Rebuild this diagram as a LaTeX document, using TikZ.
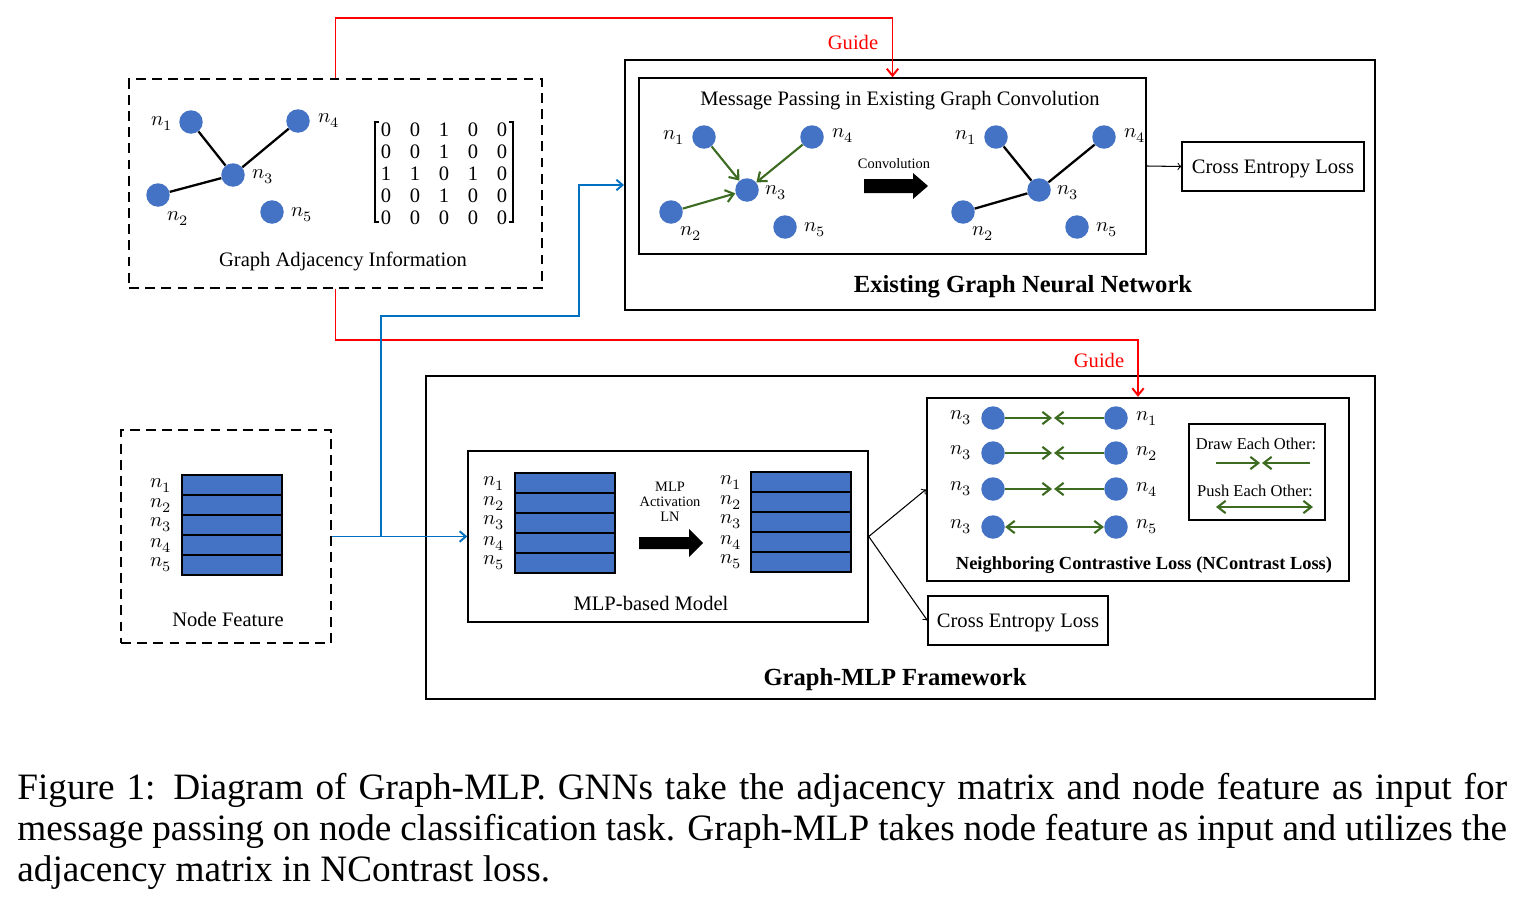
\documentclass[tikz,border=0pt]{standalone}
\usepackage{amsmath}
\usepackage{fontspec}
\usepackage{unicode-math}
\setmainfont{Liberation Serif}
\usetikzlibrary{arrows,arrows.meta}
\definecolor{nodeblue}{HTML}{4472C4}
\definecolor{linkblue}{HTML}{0070C0}
\definecolor{pullgreen}{HTML}{3D6B22}
\definecolor{guidered}{HTML}{FF0000}

\tikzset{
  vert/.style={circle, fill=nodeblue, minimum size=0.47cm, inner sep=0pt},
  txt/.style={font=\fontsize{11.7}{14}\selectfont, inner sep=0pt},
  ttl/.style={txt, yshift=-0.05cm},
  smalltxt/.style={font=\fontsize{8.2}{9.6}\selectfont, inner sep=0pt},
  legtxt/.style={font=\fontsize{9.4}{11}\selectfont, inner sep=0pt, yshift=-0.03cm},
  headtxt/.style={font=\fontsize{14}{16}\selectfont\bfseries, inner sep=0pt, yshift=-0.05cm},
  dashbox/.style={draw, dash pattern=on 5.6pt off 3.6pt, line width=1.4pt, inner sep=0pt},
  framebox/.style={draw, line width=1.2pt, inner sep=0pt},
  thinbox/.style={draw, line width=0.7pt, inner sep=0pt},
  edge/.style={line width=1.3pt},
  pull/.style={pullgreen, line width=1.2pt, >={Straight Barb[length=4.5pt,width=7pt]}},
  guide/.style={guidered, line width=1.1pt, >={Straight Barb[length=4pt,width=6.5pt]}},
  feed/.style={linkblue, line width=1.1pt, >={Straight Barb[length=3.5pt,width=6pt]}},
  featrow/.style={fill=nodeblue, draw=black, line width=0.6pt}
}

\begin{document}
\begin{tikzpicture}[x=0.02cm, y=-0.02cm, >=to]
        \useasboundingbox (0,0) rectangle (1524,896);

        % Boxes
        \node[dashbox, minimum width=8.26cm, minimum height=4.18cm] (adj) at (335.5,183.5) {};
        \node[dashbox, minimum width=4.2cm, minimum height=4.26cm] (nfeat) at (226,536.5) {};
        \node[framebox, minimum width=15cm, minimum height=5cm] (gnn) at (1000,185) {};
        \node[framebox, line width=0.9pt, minimum width=10.14cm, minimum height=3.52cm] (msg) at (892.5,166) {};
        \node[thinbox, minimum width=3.64cm, minimum height=0.98cm] (ceA) at (1273,166.5) {};
        \node[framebox, minimum width=18.98cm, minimum height=6.46cm] (frame) at (900.5,537.5) {};
        \node[framebox, line width=0.9pt, minimum width=8cm, minimum height=3.42cm] (mlp) at (668,536.5) {};
        \node[framebox, line width=1.4pt, minimum width=8.44cm, minimum height=3.66cm] (ncl) at (1138,489.5) {};
        \node[thinbox, minimum width=2.72cm, minimum height=1.92cm] (legend) at (1257,472) {};
        \node[thinbox, minimum width=3.6cm, minimum height=0.98cm] (ceB) at (1018,620.5) {};

        % Box titles
        \node[ttl] (adjtitle) at (343,259) {Graph Adjacency Information};
        \node[ttl] (nftitle) at (228,617) {Node Feature};
        \node[ttl] (msgtitle) at (900,98) {Message Passing in Existing Graph Convolution};
        \node[ttl] (ceAtxt) at (ceA) {Cross Entropy Loss};
        \node[ttl] (ceBtxt) at (ceB) {Cross Entropy Loss};
        \node[ttl] (mlptitle) at (651,601) {MLP-based Model};
        \node[headtxt] (gnntitle) at (1023,284) {Existing Graph Neural Network};
        \node[headtxt] (frametitle) at (895,677) {Graph-MLP Framework};
        \node[headtxt, font=\fontsize{10.5}{12}\selectfont\bfseries] (ncltitle) at (1144,563) {Neighboring Contrastive Loss (NContrast Loss)};

        % Adjacency graph
        \node[vert] (a1) at (191,122) {};
        \node[vert] (a2) at (158,195) {};
        \node[vert] (a3) at (233,175) {};
        \node[vert] (a4) at (298,121) {};
        \node[vert] (a5) at (272,212) {};
        \draw[edge] (a1) -- (a3);
        \draw[edge] (a4) -- (a3);
        \draw[edge] (a2) -- (a3);
        \node[txt] (la1) at (162,123) {$n_1$};
        \node[txt] (la2) at (178,218) {$n_2$};
        \node[txt] (la3) at (263,177) {$n_3$};
        \node[txt] (la4) at (329,120) {$n_4$};
        \node[txt] (la5) at (302,215) {$n_5$};

        % Adjacency matrix
        \foreach \row [count=\r] in {{0,0,1,0,0},{0,0,1,0,0},{1,1,0,1,0},{0,0,1,0,0},{0,0,0,0,0}}
          \foreach \v [count=\c] in \row
            \node[txt] (e\r\c) at (357+29*\c, 108+22*\r) {\v};
        \draw[line width=0.9pt] (379,122) -- (375,122) -- (375,222) -- (379,222);
        \draw[line width=0.9pt] (509,122) -- (513,122) -- (513,222) -- (509,222);

        % Message passing, before convolution
        \node[vert] (m1) at (704,137) {};
        \node[vert] (m2) at (671,212) {};
        \node[vert] (m3) at (747,190) {};
        \node[vert] (m4) at (812,137) {};
        \node[vert] (m5) at (785,227) {};
        \draw[pull,->] (m1) -- (m3);
        \draw[pull,->] (m4) -- (m3);
        \draw[pull,->] (m2) -- (m3);
        \node[txt] (lm1) at (674,137) {$n_1$};
        \node[txt] (lm2) at (691,233) {$n_2$};
        \node[txt] (lm3) at (776,193) {$n_3$};
        \node[txt] (lm4) at (843,135) {$n_4$};
        \node[txt] (lm5) at (815,230) {$n_5$};

        % Convolution arrow
        \node[smalltxt] (convtxt) at (894,164) {Convolution};
        \fill (864,179) -- (913,179) -- (913,173) -- (928,186) -- (913,199) -- (913,193) -- (864,193) -- cycle;

        % Message passing, after convolution
        \node[vert] (g1) at (996,137) {};
        \node[vert] (g2) at (963,212) {};
        \node[vert] (g3) at (1039,190) {};
        \node[vert] (g4) at (1104,137) {};
        \node[vert] (g5) at (1077,227) {};
        \draw[edge] (g1) -- (g3);
        \draw[edge] (g4) -- (g3);
        \draw[edge] (g2) -- (g3);
        \node[txt] (lg1) at (966,137) {$n_1$};
        \node[txt] (lg2) at (983,233) {$n_2$};
        \node[txt] (lg3) at (1068,193) {$n_3$};
        \node[txt] (lg4) at (1135,135) {$n_4$};
        \node[txt] (lg5) at (1107,230) {$n_5$};

        \draw[line width=0.6pt,->] (msg.east) -- (ceA.west);

        % Node feature stack
        \foreach \i in {1,...,5}{
          \draw[featrow] (182,455+20*\i) rectangle (282,475+20*\i);
          \node[txt] (lf\i) at (161,465+20*\i) {$n_{\i}$};
        }

        % MLP-based model stacks
        \foreach \i in {1,...,5}{
          \draw[featrow] (515,453+20*\i) rectangle (615,473+20*\i);
          \node[txt] (lp\i) at (494,463+20*\i) {$n_{\i}$};
          \draw[featrow] (751,452+20*\i) rectangle (851,472+20*\i);
          \node[txt] (lq\i) at (731,462+20*\i) {$n_{\i}$};
        }
        \node[smalltxt, align=center, font=\fontsize{8.2}{8.6}\selectfont] (mlptxt) at (670,502) {MLP\\Activation\\LN};
        \fill (639,537) -- (689,537) -- (689,529) -- (703,543) -- (689,557) -- (689,549) -- (639,549) -- cycle;

        % NContrast pairs
        \foreach \yy/\k [count=\i] in {418/1,453/2,489/4,527/5}{
          \node[vert] (p\i) at (993,\yy) {};
          \node[vert] (q\i) at (1116,\yy) {};
          \node[txt] (lpn\i) at (961,\yy) {$n_3$};
          \node[txt] (lqn\i) at (1147,\yy) {$n_{\k}$};
          \coordinate (ma\i) at (1052,\yy);
          \coordinate (mb\i) at (1054,\yy);
        }
        \foreach \i in {1,2,3}{
          \draw[pull,->] (p\i) -- (ma\i);
          \draw[pull,->] (q\i) -- (mb\i);
        }
        \draw[pull,<->] (p4) -- (q4);

        % Legend
        \node[legtxt] (drawtxt) at (1256,442) {Draw Each Other:};
        \node[legtxt] (pushtxt) at (1255,489) {Push Each Other:};
        \coordinate (da) at (1216,463);
        \coordinate (db) at (1260,463);
        \coordinate (dc) at (1262,463);
        \coordinate (dd) at (1310,463);
        \coordinate (pa) at (1216,507);
        \coordinate (pb) at (1313,507);
        \draw[pull,->] (da) -- (db);
        \draw[pull,->] (dd) -- (dc);
        \draw[pull,<->] (pa) -- (pb);

        % Outputs of the MLP
        \draw[line width=0.6pt,->] (mlp.east) -- (ncl.west);
        \draw[line width=0.6pt,->] (mlp.east) -- (ceB.west);

        % Guide lines
        \draw[guide,->] (adj.north) -- ++(0,-60) -| (msg.north);
        \node[txt, guidered] (guideA) at (853,42) {Guide};
        \draw[guide,->] (adj.south) -- ++(0,51) -| (ncl.north);
        \node[txt, guidered] (guideB) at (1099,360) {Guide};

        % Feature flow
        \coordinate (split) at (381,536.5);
        \coordinate (bend) at (579,316);
        \draw[feed,->] (nfeat.east) -- (mlp.west);
        \draw[feed,->] (split) |- (bend) |- (gnn.west);

        % Caption
        \node[anchor=north west, inner sep=0pt, text width=29.8cm, align=justify,
              font=\fontsize{21.2}{23.4}\selectfont] (cap) at (17,773)
          {Figure 1: Diagram of Graph-MLP. GNNs take the adjacency matrix and node feature as input for\linebreak
           message passing on node classification task. Graph-MLP takes node feature as input and utilizes the\linebreak
           adjacency matrix in NContrast loss.};

\end{tikzpicture}
\end{document}
